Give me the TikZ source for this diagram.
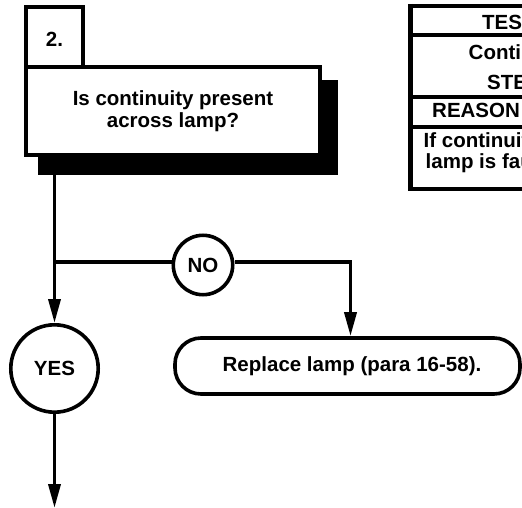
\documentclass[tikz,border=0pt]{standalone}
\usepackage{fontspec}
\setmainfont{Liberation Sans}
\usetikzlibrary{arrows.meta}
\begin{document}
\begin{tikzpicture}[x=1pt,y=-1pt,
  every node/.style={font=\bfseries\fontsize{20.5}{22}\selectfont, inner sep=0pt},
  ln/.style={line width=3.6pt},
  flow/.style={ln, -{Triangle[length=24pt,width=12pt]}},
  boxst/.style={draw, ln, fill=white, rectangle, line join=miter},
  ring/.style={draw, ln, circle, fill=white},
  endbox/.style={draw, ln, rounded corners=26pt, fill=white},
  rule/.style={line width=4.4pt},
]
\useasboundingbox (0,0) rectangle (522,508);
\clip (0,0) rectangle (522,508);

% step header: number tab and question box with heavy shadow
\fill (38,80) rectangle (338,175);
\node[boxst, minimum width=294.5pt, minimum height=88.5pt, align=center] (q) at (173,111)
  {Is continuity present\\across lamp?};
\node[boxst, minimum width=57.5pt, minimum height=60pt] (tab) at (54.5,36.75) {};
\node[anchor=base] (tabnum) at (54.5,47) {2.};

% decision outcomes
\node[ring, minimum size=59.4pt] (no) at (203,265) {NO};
\node[ring, minimum size=87.4pt] (yes) at (54.5,368.5) {YES};
\node[endbox, minimum width=345pt, minimum height=56pt] (act) at (347.5,366) {};
\node (acttxt) at (352,366) {Replace lamp (para 16-58).};

\coordinate (split) at (54.5,262);
\coordinate (exit) at (54.5,508);

% connectors
\draw[flow] (q.south -| yes.north) -- (yes.north);
\draw[ln] (split) -- (split -| no.west);
\draw[flow] (split -| no.east) -| ([xshift=3pt]act.north);
\draw[flow] (yes.south) -- (exit);

% test table in the upper right corner
\draw[rule] (410.5,6) -- (540,6);
\draw[rule] (410.5,35) -- (540,35);
\draw[rule] (410.5,97) -- (540,97);
\draw[rule] (410.5,127) -- (540,127);
\draw[rule] (410.5,189) -- (540,189);
\draw[rule] (410.5,3.8) -- (410.5,191.2);
\node[anchor=base west] (thead) at (482,30) {TEST};
\node[anchor=base west] (tname) at (468.5,60) {Continuity};
\node[anchor=base west] (tstep) at (487,90) {STEP};
\node[anchor=base west] (rhead) at (432,118) {REASON};
\node[anchor=base west] (rtext1) at (423.5,147.5) {If continuity};
\node[anchor=base west] (rtext2) at (425.5,168.5) {lamp is faulty};
\end{tikzpicture}
\end{document}
